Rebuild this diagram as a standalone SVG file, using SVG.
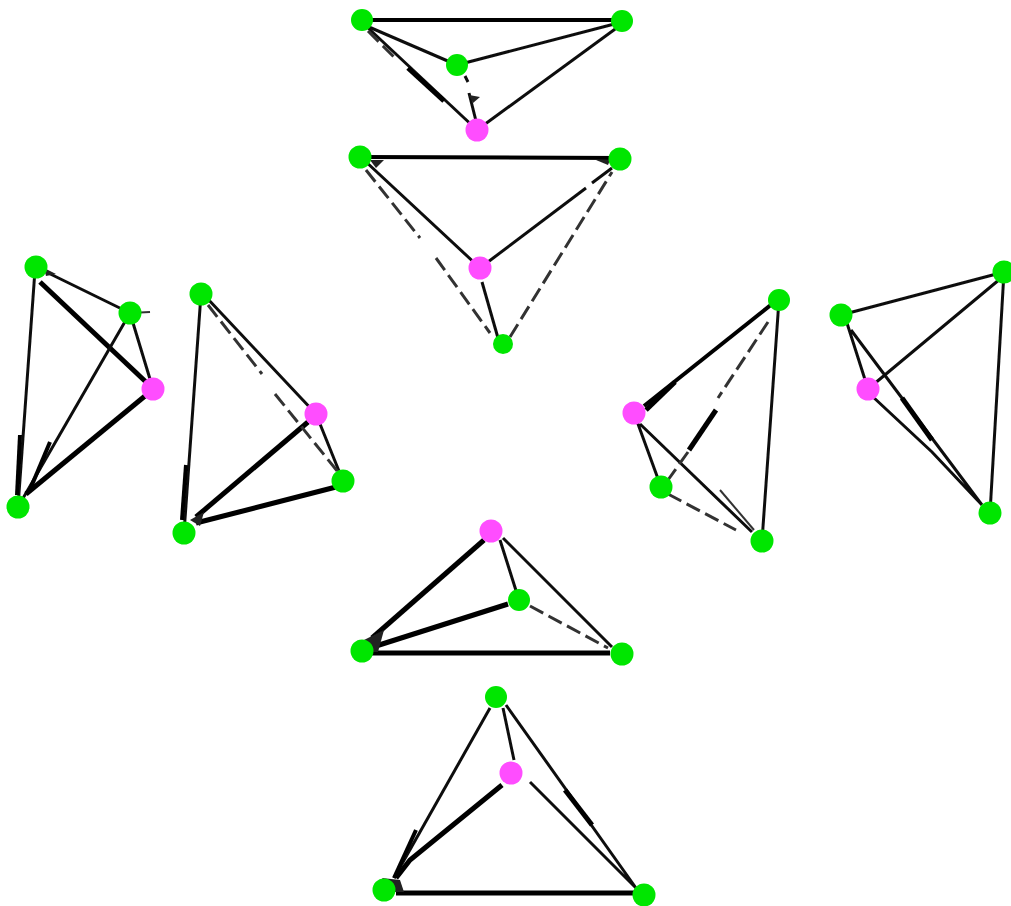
<svg xmlns="http://www.w3.org/2000/svg" width="1011" height="906" viewBox="0 0 1011 906">
<defs>
<style>
.e{fill:none;stroke:#111;stroke-width:3;stroke-linecap:butt}
.t{fill:none;stroke:#000;stroke-width:5;stroke-linecap:butt}
.s{fill:none;stroke:#000;stroke-width:4;stroke-linecap:butt}
.f{fill:none;stroke:#333;stroke-width:2}
.d{fill:none;stroke:#333;stroke-width:3;stroke-dasharray:15 6}
.w{fill:#222;stroke:none}
.g{fill:#00e600}
.m{fill:#ff4dff}
</style>
<filter id="soft" x="-2%" y="-2%" width="104%" height="104%"><feGaussianBlur stdDeviation="0.7"/></filter>
</defs>
<rect width="1011" height="906" fill="#fff"/>
<g id="connectors" filter="url(#soft)">
<!-- top 1 -->
<path class="s" d="M362 20H622"/>
<path class="e" d="M362 24L457 65M457 65L622 22M477 130L622 24"/>
<path class="e" d="M366 26L477 130"/>
<path class="t" d="M408 68L444 101"/>
<path class="d" d="M368 31L395 58"/>
<path class="e" d="M465 76L468 82M469 93L477 125"/>
<path class="w" d="M469 95L480 97L473 103Z"/>
<!-- top 2 -->
<path class="s" d="M360 157L620 158"/>
<path class="e" d="M364 160L480 268M480 268L586 188M592 183L612 168"/>
<path class="e" d="M482 282L498 338"/>
<path class="d" d="M366 170L420 238M436 258L490 333"/>
<path class="d" d="M510 337L612 172"/>
<path class="w" d="M596 160L610 160L608 165Z"/>
<path class="w" d="M370 160L384 160L376 168Z"/>
<!-- left 1 -->
<path class="e" d="M36 267L130 313M130 313L153 389"/>
<path class="w" d="M44 268L56 274L46 276Z"/>
<path class="t" d="M40 282L146 382"/>
<path class="e" d="M35 270L18 507M130 313L22 500"/>
<path class="s" d="M20 435L17 495"/>
<path class="s" d="M50 442L29 492"/>
<path class="t" d="M145 396L26 494"/>
<path class="f" d="M130 313L150 312"/>
<!-- left 2 -->
<path class="e" d="M201 294L184 533M206 297L316 414M316 414L343 481"/>
<path class="s" d="M186 465L182 520"/>
<path class="t" d="M308 422L196 517"/>
<path class="t" d="M336 487L196 523"/>
<path class="d" d="M208 305L262 374M275 394L338 472"/>
<path class="w" d="M190 520L204 512L200 526Z"/>
<!-- right 1 -->
<path class="s" d="M772 304L644 406"/>
<path class="t" d="M675 382L646 410"/>
<path class="e" d="M779 300L762 541M634 413L661 487M640 424L752 532"/>
<path class="d" d="M768 322L718 398"/>
<path class="t" d="M716 410L689 450"/>
<path class="d" d="M688 452L668 480"/>
<path class="d" d="M668 494L736 530"/>
<path class="f" d="M720 490L754 530"/>
<!-- right 2 -->
<path class="e" d="M841 315L1004 272M868 389L1000 279M1004 272L990 513M846 320L868 389M851 330L982 505M872 396L932 452L982 505"/>
<path class="t" d="M902 398L932 440"/>
<!-- bottom 1 -->
<path class="t" d="M484 540L372 638"/>
<path class="e" d="M500 540L519 600M503 538L612 647"/>
<path class="t" d="M508 604L376 646"/>
<path class="d" d="M530 606L608 648"/>
<path class="t" d="M370 653H610"/>
<path class="w" d="M364 640L384 630L378 652L368 652Z"/>
<!-- bottom 2 -->
<path class="e" d="M490 708L394 878M503 708L514 760M506 705L636 888M530 782L636 888"/>
<path class="s" d="M416 830L394 878"/>
<path class="t" d="M502 785L410 860L396 878"/>
<path class="t" d="M565 790L592 825"/>
<path class="t" d="M396 893H634"/>
<path class="w" d="M382 878L400 880L404 892L392 892Z"/>
</g>
<g id="top1"><circle class="g" cx="362" cy="20" r="11"/><circle class="g" cx="622" cy="21" r="11"/><circle class="g" cx="457" cy="65" r="11"/><circle class="m" cx="477" cy="130" r="11.5"/></g>
<g id="top2"><circle class="g" cx="360" cy="157" r="11.5"/><circle class="g" cx="620" cy="159" r="11.5"/><circle class="m" cx="480" cy="268" r="11.5"/><circle class="g" cx="503" cy="344" r="10"/></g>
<g id="left1"><circle class="g" cx="36" cy="267" r="11.5"/><circle class="g" cx="130" cy="313" r="11.5"/><circle class="m" cx="153" cy="389" r="11.5"/><circle class="g" cx="18" cy="507" r="11.5"/></g>
<g id="left2"><circle class="g" cx="201" cy="294" r="11.5"/><circle class="m" cx="316" cy="414" r="11.5"/><circle class="g" cx="343" cy="481" r="11.5"/><circle class="g" cx="184" cy="533" r="11.5"/></g>
<g id="right1"><circle class="g" cx="779" cy="300" r="11"/><circle class="m" cx="634" cy="413" r="11.5"/><circle class="g" cx="661" cy="487" r="11.5"/><circle class="g" cx="762" cy="541" r="11.5"/></g>
<g id="right2"><circle class="g" cx="1004" cy="272" r="11.5"/><circle class="g" cx="841" cy="315" r="11.5"/><circle class="m" cx="868" cy="389" r="11.5"/><circle class="g" cx="990" cy="513" r="11.5"/></g>
<g id="bottom1"><circle class="m" cx="491" cy="531" r="11.5"/><circle class="g" cx="519" cy="600" r="11"/><circle class="g" cx="362" cy="651" r="11.5"/><circle class="g" cx="622" cy="654" r="11.5"/></g>
<g id="bottom2"><circle class="g" cx="496" cy="697" r="11"/><circle class="m" cx="511" cy="773" r="11.5"/><circle class="g" cx="384" cy="890" r="11.5"/><circle class="g" cx="644" cy="895" r="11.5"/></g>
</svg>
